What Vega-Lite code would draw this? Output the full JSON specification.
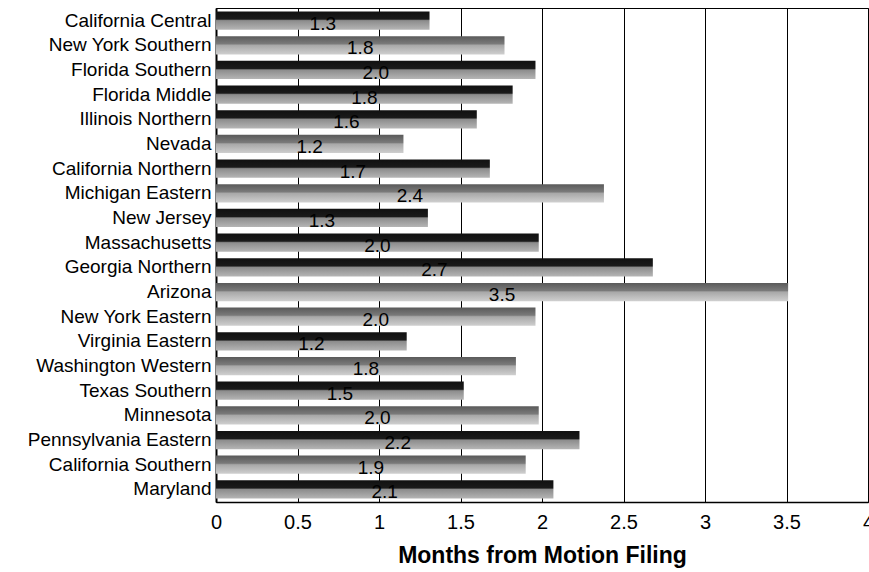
{
  "$schema": "https://vega.github.io/schema/vega-lite/v6.json",
  "autosize": {"type": "none"},
  "width": 652,
  "height": 494,
  "padding": {"left": 216, "top": 8, "right": 1, "bottom": 70},
  "background": "white",
  "config": {
    "font": "Liberation Sans",
    "view": {"stroke": "black", "strokeWidth": 1}
  },
  "data": {
    "values": [
      {"district": "California Central", "months": 1.31, "label": 1.3, "shade": "dark"},
      {"district": "New York Southern", "months": 1.77, "label": 1.8, "shade": "light"},
      {"district": "Florida Southern", "months": 1.96, "label": 2.0, "shade": "dark"},
      {"district": "Florida Middle", "months": 1.82, "label": 1.8, "shade": "dark"},
      {"district": "Illinois Northern", "months": 1.6, "label": 1.6, "shade": "dark"},
      {"district": "Nevada", "months": 1.15, "label": 1.2, "shade": "light"},
      {"district": "California Northern", "months": 1.68, "label": 1.7, "shade": "dark"},
      {"district": "Michigan Eastern", "months": 2.38, "label": 2.4, "shade": "light"},
      {"district": "New Jersey", "months": 1.3, "label": 1.3, "shade": "dark"},
      {"district": "Massachusetts", "months": 1.98, "label": 2.0, "shade": "dark"},
      {"district": "Georgia Northern", "months": 2.68, "label": 2.7, "shade": "dark"},
      {"district": "Arizona", "months": 3.51, "label": 3.5, "shade": "light"},
      {"district": "New York Eastern", "months": 1.96, "label": 2.0, "shade": "light"},
      {"district": "Virginia Eastern", "months": 1.17, "label": 1.2, "shade": "dark"},
      {"district": "Washington Western", "months": 1.84, "label": 1.8, "shade": "light"},
      {"district": "Texas Southern", "months": 1.52, "label": 1.5, "shade": "dark"},
      {"district": "Minnesota", "months": 1.98, "label": 2.0, "shade": "light"},
      {"district": "Pennsylvania Eastern", "months": 2.23, "label": 2.2, "shade": "dark"},
      {"district": "California Southern", "months": 1.9, "label": 1.9, "shade": "light"},
      {"district": "Maryland", "months": 2.07, "label": 2.1, "shade": "dark"}
    ]
  },
  "encoding": {
    "y": {
      "field": "district",
      "type": "nominal",
      "sort": ["California Central", "New York Southern", "Florida Southern", "Florida Middle", "Illinois Northern", "Nevada", "California Northern", "Michigan Eastern", "New Jersey", "Massachusetts", "Georgia Northern", "Arizona", "New York Eastern", "Virginia Eastern", "Washington Western", "Texas Southern", "Minnesota", "Pennsylvania Eastern", "California Southern", "Maryland"],
      "scale": {"paddingInner": 0.26, "paddingOuter": 0.14},
      "axis": {
        "title": null,
        "labelFontSize": 19,
        "labelColor": "black",
        "labelPadding": 5,
        "labelLimit": 0,
        "ticks": false,
        "domainColor": "black",
        "domainWidth": 2
      }
    },
    "x": {
      "field": "months",
      "type": "quantitative",
      "scale": {"domain": [0, 4], "nice": false},
      "axis": {
        "title": "Months from Motion Filing",
        "titleFontSize": 23,
        "titleFontWeight": "bold",
        "titleColor": "black",
        "titlePadding": 12,
        "values": [0, 0.5, 1, 1.5, 2, 2.5, 3, 3.5, 4],
        "labelExpr": "datum.value",
        "labelFontSize": 20,
        "labelColor": "black",
        "labelPadding": 10,
        "labelFlush": false,
        "ticks": false,
        "grid": true,
        "gridColor": "black",
        "gridOpacity": 1,
        "gridWidth": 1,
        "domainColor": "black",
        "domainWidth": 1.5
      }
    }
  },
  "layer": [
    {
      "transform": [{"filter": "datum.shade === 'dark'"}],
      "mark": {
        "type": "bar",
        "color": {
          "gradient": "linear", "x1": 0, "y1": 0, "x2": 0, "y2": 1,
          "stops": [
            {"offset": 0, "color": "#111111"},
            {"offset": 0.42, "color": "#1a1a1a"},
            {"offset": 0.5, "color": "#8c8c8c"},
            {"offset": 1, "color": "#b5b5b5"}
          ]
        }
      }
    },
    {
      "transform": [{"filter": "datum.shade === 'light'"}],
      "mark": {
        "type": "bar",
        "color": {
          "gradient": "linear", "x1": 0, "y1": 0, "x2": 0, "y2": 1,
          "stops": [
            {"offset": 0, "color": "#5a5a5a"},
            {"offset": 0.42, "color": "#7a7a7a"},
            {"offset": 0.5, "color": "#a8a8a8"},
            {"offset": 1, "color": "#cfcfcf"}
          ]
        }
      }
    },
    {
      "transform": [{"calculate": "datum.months / 2", "as": "mid"}],
      "mark": {"type": "text", "fontSize": 19, "color": "black", "dy": 3, "align": "center"},
      "encoding": {
        "x": {"field": "mid", "type": "quantitative"},
        "text": {"field": "label", "type": "quantitative", "format": ".1f"}
      }
    }
  ]
}
